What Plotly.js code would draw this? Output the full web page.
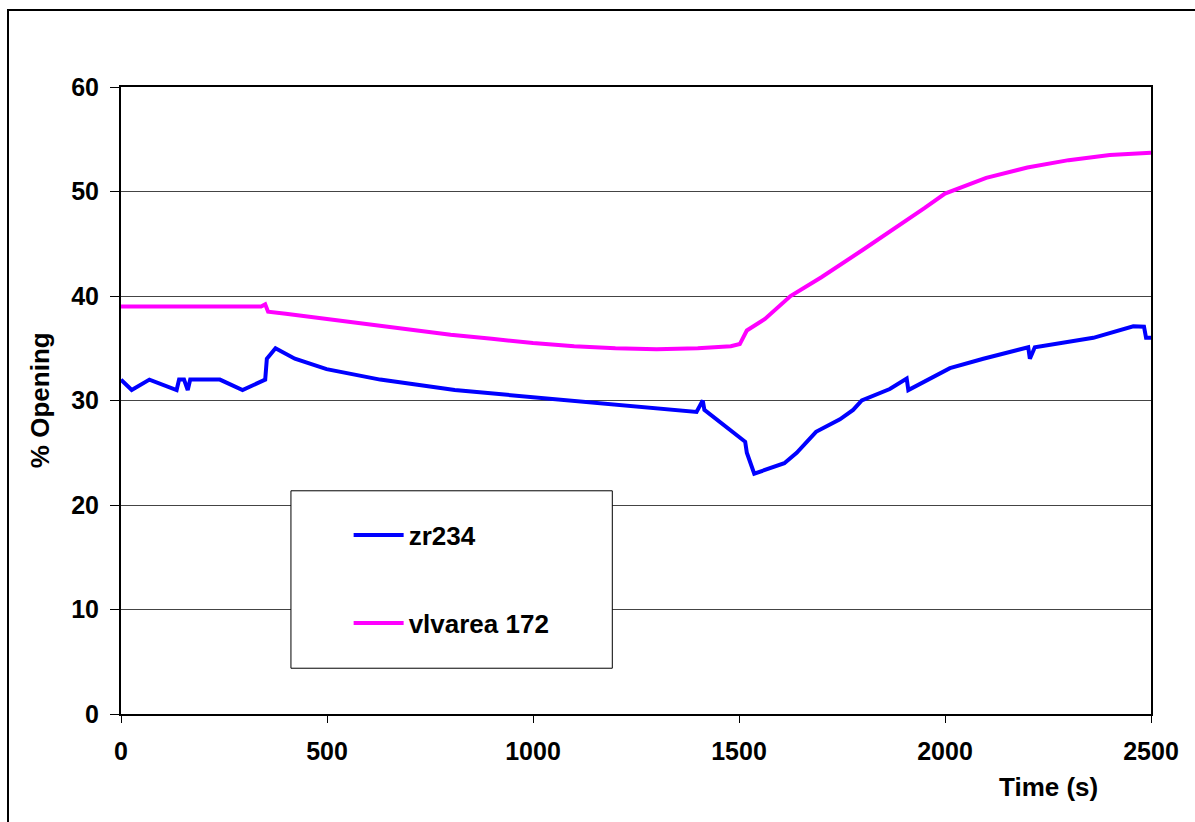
<!DOCTYPE html>
<html>
<head>
<meta charset="utf-8">
<script src="https://cdn.plot.ly/plotly-3.0.1.min.js"></script>
<style>
  html, body { margin: 0; padding: 0; background: #fff; }
  #chart { width: 1195px; height: 822px; position: relative; }
  #frame { position: absolute; left: 7px; top: 9px; width: 1200px; height: 830px; border: 2px solid #000; box-sizing: border-box; pointer-events: none; }
</style>
</head>
<body>
<div id="chart"></div>
<div id="frame"></div>
<script>
// zr234 series
const zrTime = [0, 26, 69, 135, 141, 153, 162, 168, 240, 295, 350, 354, 375, 422, 499, 629, 810, 1080, 1397, 1412, 1416, 1515, 1519, 1537, 1610, 1640, 1687, 1745, 1777, 1798, 1866, 1907, 1911, 2012, 2093, 2202, 2206, 2218, 2360, 2457, 2483, 2488, 2500];
const zrVal  = [32, 31, 32, 31, 32, 32, 31, 32, 32, 31, 32, 34, 35, 34, 33, 32, 31, 30, 28.9, 30, 29.1, 26.05, 25, 23, 24, 25, 27, 28.2, 29.1, 30, 31.1, 32.1, 31, 33.1, 34, 35.1, 34, 35.1, 36, 37.1, 37.06, 36, 36];

// vlvarea 172 series
const vlTime = [0, 340, 350, 357, 400, 500, 600, 700, 800, 900, 1000, 1100, 1200, 1300, 1400, 1480, 1502, 1519, 1563, 1625, 1700, 1800, 1900, 1950, 2000, 2050, 2100, 2200, 2300, 2400, 2500];
const vlVal  = [39, 39, 39.2, 38.5, 38.3, 37.8, 37.3, 36.8, 36.3, 35.9, 35.5, 35.2, 35.0, 34.9, 35.0, 35.2, 35.4, 36.7, 37.8, 40.0, 41.8, 44.4, 47.0, 48.4, 49.8, 50.6, 51.3, 52.3, 53.0, 53.5, 53.7];

const xTicks = [0, 500, 1000, 1500, 2000, 2500];
const yTicks = [0, 10, 20, 30, 40, 50, 60];

const font = {family: '"Liberation Sans", Arial, sans-serif', color: '#000'};

const traces = [
  {x: zrTime, y: zrVal, name: 'zr234', mode: 'lines', line: {color: '#0000ff', width: 4}, legendgroup: 'a'},
  {x: vlTime, y: vlVal, name: 'vlvarea 172', mode: 'lines', line: {color: '#ff00ff', width: 4}, legendgroup: 'b'}
];

const layout = {
  width: 1195, height: 822,
  margin: {l: 121, r: 44, t: 87, b: 108},
  paper_bgcolor: '#fff', plot_bgcolor: '#fff',
  font: Object.assign({size: 20}, font),
  showlegend: true,
  legend: {
    x: 0.221, y: 0.215, xanchor: 'left', yanchor: 'middle',
    bgcolor: 'rgba(0,0,0,0)', borderwidth: 0,
    font: Object.assign({size: 26, weight: 'bold'}, font),
    tracegroupgap: 51, traceorder: 'grouped', itemwidth: 50
  },
  xaxis: {
    range: [0, 2500], tickvals: xTicks, ticktext: xTicks.map(String),
    showline: true, linecolor: '#000', linewidth: 2, mirror: true,
    ticks: 'outside', ticklen: 7, tickcolor: '#000', tickwidth: 1,
    ticklabelstandoff: 7,
    showgrid: false, zeroline: false,
    tickfont: Object.assign({size: 25, weight: 'bold'}, font)
  },
  yaxis: {
    range: [0, 60], tickvals: yTicks, ticktext: yTicks.map(String),
    showline: true, linecolor: '#000', linewidth: 2, mirror: true,
    ticks: 'outside', ticklen: 9, tickcolor: '#000', tickwidth: 1,
    ticklabelstandoff: 6,
    showgrid: true, gridcolor: '#444', gridwidth: 1, zeroline: false,
    tickfont: Object.assign({size: 25, weight: 'bold'}, font)
  },
  shapes: [
    {type: 'rect', xref: 'paper', yref: 'paper', x0: 0.165, x1: 0.477, y0: 0.073, y1: 0.356,
     line: {color: '#000', width: 1}, fillcolor: '#fff', layer: 'above'}
  ],
  annotations: [
    {text: '<b>% Opening</b>', xref: 'paper', yref: 'paper', x: -0.079, y: 0.5, textangle: -90,
     showarrow: false, font: Object.assign({size: 26}, font), xanchor: 'center', yanchor: 'middle'},
    {text: '<b>Time (s)</b>', xref: 'paper', yref: 'paper', x: 0.9, y: -0.116,
     showarrow: false, font: Object.assign({size: 26}, font), xanchor: 'center', yanchor: 'middle'}
  ]
};

Plotly.newPlot('chart', traces, layout, {displayModeBar: false, staticPlot: true});
</script>
</body>
</html>
